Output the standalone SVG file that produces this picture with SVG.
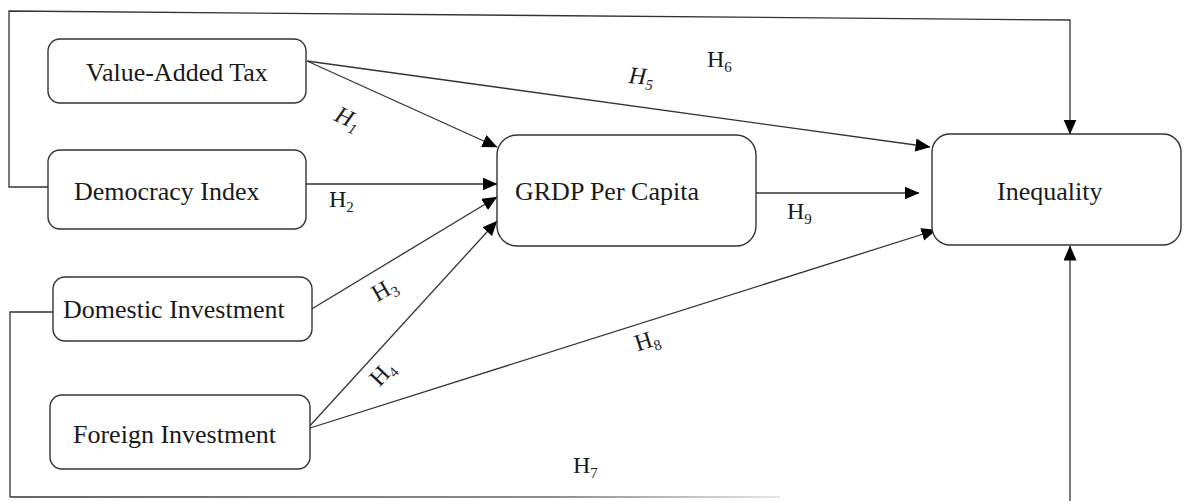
<svg xmlns="http://www.w3.org/2000/svg" width="1184" height="501" viewBox="0 0 1184 501">
<style>
.box{fill:#fff;stroke:#333;stroke-width:1.4}
.lbl{font-family:"Liberation Serif","Times New Roman",serif;font-size:26px;fill:#1a1a1a}
.h{font-family:"Liberation Serif","Times New Roman",serif;font-size:24px;fill:#1a1a1a}
.sub{font-size:15px}
.ln{fill:none;stroke:#333;stroke-width:1.3}
.ar{marker-end:url(#arr)}
</style>
<defs>
<marker id="arr" markerUnits="userSpaceOnUse" markerWidth="15" markerHeight="14" refX="14.5" refY="6.5" orient="auto">
<path d="M0,0 L15,6.5 L0,13 z" fill="#000"/>
</marker>
<linearGradient id="fade" gradientUnits="userSpaceOnUse" x1="10" y1="0" x2="780" y2="0">
<stop offset="0" stop-color="#333"/>
<stop offset="0.7" stop-color="#666"/>
<stop offset="1" stop-color="#ddd"/>
</linearGradient>
</defs>
<rect width="1184" height="501" fill="#fff"/>
<g id="connectors">
<polyline class="ln" points="50,187 9,187 9,11 1070,20 1070,134" marker-end="url(#arr)"/>
<polyline class="ln" points="53,312 10,312 10,497"/>
<line x1="10" y1="497" x2="780" y2="497" stroke="url(#fade)" stroke-width="1.4"/>
<line class="ln ar" x1="1070" y1="501" x2="1070" y2="246"/>
<line class="ln ar" x1="307" y1="61" x2="497" y2="147"/>
<line class="ln ar" x1="307" y1="61" x2="930" y2="147"/>
<line class="ln ar" x1="306" y1="184" x2="497" y2="184"/>
<line class="ln ar" x1="310" y1="310" x2="497" y2="197"/>
<line class="ln ar" x1="307" y1="429" x2="497" y2="221"/>
<line class="ln ar" x1="307" y1="429" x2="936" y2="230"/>
<line class="ln ar" x1="756" y1="193" x2="919" y2="193"/>
</g>
<g id="labels">
<text class="h" transform="translate(348,118) rotate(25)" text-anchor="middle" y="8" font-style="italic">H<tspan class="sub" dy="5">1</tspan></text>
<text class="h" x="329" y="207">H<tspan class="sub" dy="5">2</tspan></text>
<text class="h" transform="translate(384,289) rotate(-30)" text-anchor="middle" y="8">H<tspan class="sub" dy="5">3</tspan></text>
<text class="h" transform="translate(382,373) rotate(-47)" text-anchor="middle" y="8">H<tspan class="sub" dy="5">4</tspan></text>
<text class="h" transform="translate(641,80) rotate(5)" text-anchor="middle" y="4" font-style="italic">H<tspan class="sub" dy="5">5</tspan></text>
<text class="h" x="707" y="67">H<tspan class="sub" dy="5">6</tspan></text>
<text class="h" x="573" y="473">H<tspan class="sub" dy="5">7</tspan></text>
<text class="h" transform="translate(647,340) rotate(-17.6)" text-anchor="middle" y="8">H<tspan class="sub" dy="5">8</tspan></text>
<text class="h" x="787" y="219">H<tspan class="sub" dy="5">9</tspan></text>
</g>
<g id="vat"><rect class="box" x="48" y="39" width="258" height="64" rx="12"/><text class="lbl" x="86" y="81">Value-Added Tax</text></g>
<g id="democracy"><rect class="box" x="48" y="150" width="258" height="79" rx="12"/><text class="lbl" x="74" y="200">Democracy Index</text></g>
<g id="domestic"><rect class="box" x="53" y="277" width="259" height="64" rx="12"/><text class="lbl" x="63" y="318">Domestic Investment</text></g>
<g id="foreign"><rect class="box" x="50" y="395" width="260" height="74" rx="12"/><text class="lbl" x="73" y="443">Foreign Investment</text></g>
<g id="grdp"><rect class="box" x="497" y="135" width="259" height="111" rx="20"/><text class="lbl" x="515" y="200">GRDP Per Capita</text></g>
<g id="inequality"><rect class="box" x="932" y="134" width="249" height="111" rx="18"/><text class="lbl" x="997" y="200">Inequality</text></g>
</svg>
